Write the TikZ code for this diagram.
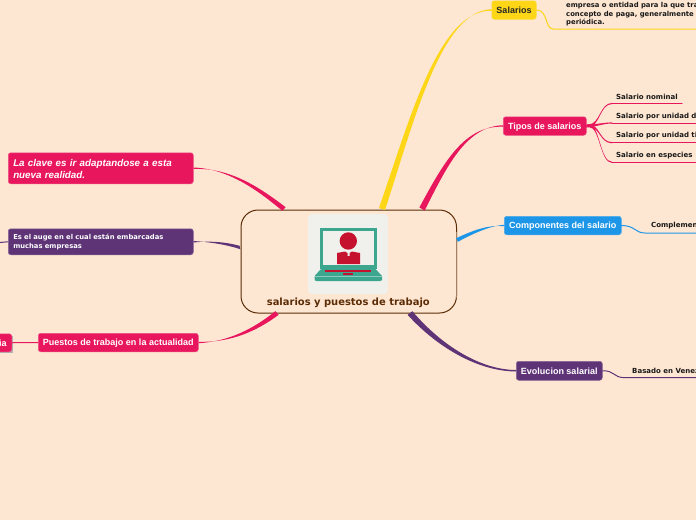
\documentclass[tikz,border=0pt]{standalone}
\usepackage{fontspec}
\setmainfont{Liberation Sans}
\newfontfamily\wide{DejaVu Sans}
\usetikzlibrary{calc}
\definecolor{bg}{HTML}{FEE7D2}
\definecolor{cred}{HTML}{E8175D}
\definecolor{cyel}{HTML}{FCD617}
\definecolor{cblu}{HTML}{1E96E8}
\definecolor{cpur}{HTML}{5E3477}
\definecolor{cbrn}{HTML}{5B2C06}
\definecolor{cteal}{HTML}{3DA68F}
\definecolor{cscr}{HTML}{F0F1EC}
\definecolor{cman}{HTML}{C4122F}
% colour, start, first control, second control, end, half-width x, half-width y
\newcommand\taper[7]{\fill[#1] ([shift={(#6,#7)}]#2) .. controls ([shift={(.75*#6,.75*#7)}]#3) and ([shift={(.4*#6,.4*#7)}]#4) .. ([yshift=.75pt]#5) -- ([yshift=-.75pt]#5) .. controls ([shift={(-.4*#6,-.4*#7)}]#4) and ([shift={(-.75*#6,-.75*#7)}]#3) .. ([shift={(-1*#6,-1*#7)}]#2) -- cycle;}
\tikzset{
 box/.style={anchor=north west,rounded corners=2.5pt,inner sep=0pt,font=\bfseries\fontsize{9}{11}\selectfont,text=white,line width=.5pt},
 one/.style={text height=8pt,text depth=1.2pt},
 rbox/.style={box,fill=cred,draw=cred!75!white},
 pbox/.style={box,fill=cpur,draw=cpur!75!white},
 sub/.style={anchor=west,inner sep=0pt,font=\wide\bfseries\fontsize{7}{8.7}\selectfont,text=black!90,align=left},
 thin line/.style={line width=1pt,line cap=round},
}
\begin{document}
\begin{tikzpicture}[x=1pt,y=-1pt]
\useasboundingbox (0,0) rectangle (696,520);
\clip (0,0) rectangle (696,520);
\fill[bg] (0,0) rectangle (696,520);
% centre
\node[draw=cbrn,fill=bg,line width=1pt,rounded corners=17pt,minimum width=215.5pt,minimum height=103pt,inner sep=0pt,anchor=north west] (centre) at (240.5,209.5) {};
\draw[cbrn!55!bg,line width=1pt] (456,232) -- (456,298);
\fill[cscr,rounded corners=4pt] (308,214) rectangle (388,294);
\fill[cteal] (320,227.5) rectangle (377,268.5);
\fill[cscr] (323,231) rectangle (374,265);
\fill[cman] (348.3,241) circle (8.7);
\fill[cman] (337,264) -- (337,253) -- (345,251.5) -- (347.5,253) -- (347.5,256) -- (349.5,256) -- (349.5,253) -- (352,251.5) -- (360,253) -- (360,264) -- cycle;
\fill[cteal] (321,269) -- (375.5,269) -- (382,276) -- (382,280) [rounded corners=1pt] -- (381,281) -- (315.5,281) -- (314.5,280) -- (314.5,276) -- cycle;
\fill[cteal!60!white] (314.5,276.4) rectangle (382,277.2);
\fill[cman] (325,270) rectangle (371,272);
\fill[cman] (343,273) rectangle (353,275);
\node[anchor=center,inner sep=0pt,font=\wide\bfseries\fontsize{9.95}{12}\selectfont,text=cbrn] (title) at (348.3,302.5) {salarios y puestos de trabajo};
% nodes
\node[box,one,fill=cyel,draw=cyel!80!white,text=black!85,minimum width=44.5pt,minimum height=18.5pt] (sal) at (491.5,.5) {Salarios};
\node[rbox,one,minimum width=83pt,minimum height=18.5pt] (tip) at (503,116.5) {Tipos de salarios};
\node[box,one,fill=cblu,draw=cblu!80!white,minimum width=117pt,minimum height=18.5pt] (com) at (504,216) {Componentes del salario};
\node[pbox,one,minimum width=86pt,minimum height=19pt] (evo) at (516,361) {Evolucion salarial};
\node[rbox,one,minimum width=160pt,minimum height=18.5pt] (pue) at (38,333) {Puestos de trabajo en la actualidad};
\node[rbox,text width=175pt,inner xsep=5pt,minimum height=31pt,align=left,font=\bfseries\itshape\fontsize{9.8}{12.3}\selectfont] (cla) at (8,152.5) {\rule{0pt}{8pt}La clave es ir adaptandose a esta nueva realidad.};
\node[pbox,text width=175pt,inner xsep=5pt,minimum height=26pt,align=left,font=\wide\bfseries\fontsize{6.78}{9}\selectfont] (aug) at (8,228.5) {\rule{0pt}{6.5pt}Es el auge en el cual están embarcadas muchas empresas};
\fill[black!30] (-10,335.5) rectangle (13,353);
\node[rbox,one,minimum width=30pt,minimum height=18pt,anchor=north east,text width=26pt,align=right,inner xsep=2pt,inner ysep=0pt] (ia) at (12,333.5) {ia\kern3pt};
% plain labels
\node[sub,font=\wide\bfseries\fontsize{6.85}{8.7}\selectfont] (s0) at (566,14.2) {empresa o entidad para la que tra\\concepto de paga, generalmente\\periódica.};
\node[sub] (l1) at (616,96.7) {Salario nominal};
\node[sub] (l2) at (616,116.7) {Salario por unidad d};
\node[sub] (l3) at (616,135.7) {Salario por unidad ti};
\node[sub] (l4) at (616,155.7) {Salario en especies};
\node[sub] (l5) at (651,225.7) {Complemen};
\node[sub] (l6) at (632,370.7) {Basado en Venez};
% trunk origins
\coordinate (oy) at (382,209);
\coordinate (ot) at (422,209);
\coordinate (ob) at (457,240);
\coordinate (oe) at (410,313);
\coordinate (oc) at (284,209);
\coordinate (oa) at (240,247.5);
\coordinate (op) at (277,313);
% main branches
\taper{cyel}{oy}{412,120}{440,10}{sal.west}{3}{1}
\taper{cred}{ot}{445,165}{465,125.7}{tip.west}{2.6}{1.6}
\taper{cblu}{ob}{475,231}{490,225.2}{com.west}{.8}{1.8}
\taper{cpur}{oe}{438,345}{478,370.5}{evo.west}{2.4}{-1.8}
\taper{cred}{oc}{260,190}{230,168}{cla.east}{-1.6}{1.8}
\taper{cpur}{oa}{225,243}{210,241.5}{aug.east}{.4}{1.7}
\taper{cred}{op}{255,330}{230,342}{pue.east}{1.7}{1.8}
\draw[cred,line width=1pt] (ia.east) -- (pue.west);
\coordinate (e0) at (0,242.5);
\draw[cpur,line width=1pt] (e0) -- (aug.west);
% sub-branches
\coordinate (y1) at (553,29);\coordinate (y2) at (696,29);
\draw[cyel,thin line] (sal.east) .. controls (548,10) and (545,29) .. (y1) -- (y2);
\coordinate (a1) at (612,103.5);\coordinate (a2) at (682,103.5);
\coordinate (b1) at (612,123);\coordinate (b2) at (696,123);
\coordinate (c1) at (612,142.7);\coordinate (c2) at (696,142.7);
\coordinate (d1) at (612,162.3);\coordinate (d2) at (696,162.3);
\coordinate (tp) at (589,125.7);
\coordinate (ka1) at (600,125);\coordinate (kb1) at (600,103.5);
\coordinate (ka2) at (598,125.5);\coordinate (kb2) at (602,123);
\coordinate (ka3) at (600,126);\coordinate (kb3) at (600,142.7);
\coordinate (ka4) at (600,126);\coordinate (kb4) at (600,162.3);
\foreach \p/\q/\ca/\cb in {a1/a2/ka1/kb1,b1/b2/ka2/kb2,c1/c2/ka3/kb3,d1/d2/ka4/kb4}{
  \fill[cred] ([yshift=-1.3pt]tip.east) -- ([yshift=-1.3pt]tp) .. controls ([yshift=-1.2pt]\ca) and ([yshift=-.4pt]\cb) .. ([yshift=-.6pt]\p) -- ([yshift=.6pt]\p) .. controls ([yshift=.4pt]\cb) and ([yshift=1.2pt]\ca) .. ([yshift=1.3pt]tp) -- ([yshift=1.3pt]tip.east) -- cycle;
  \draw[cred,thin line] (\p) -- (\q);
}
\coordinate (g1) at (645,233);\coordinate (g2) at (696,233);
\draw[cblu,thin line] (com.east) .. controls (635,225.5) and (635,233) .. (g1) -- (g2);
\coordinate (h1) at (625,377.7);\coordinate (h2) at (696,377.7);
\draw[cpur,thin line] (evo.east) .. controls (615,370.5) and (613,377.7) .. (h1) -- (h2);
\end{tikzpicture}
\end{document}
